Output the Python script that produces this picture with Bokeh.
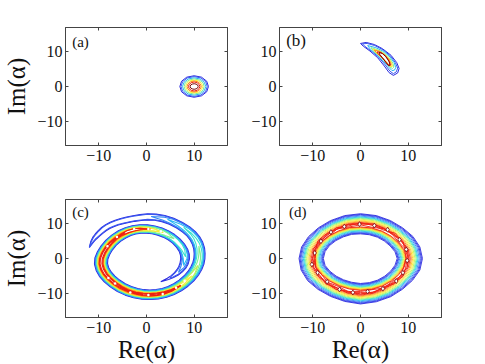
from math import cos, sin, radians, hypot
from bokeh.plotting import figure
from bokeh.layouts import column, row
from bokeh.models import Label, LinearAxis, FixedTicker
from bokeh.embed import file_html
from bokeh.resources import INLINE

FONT = "Liberation Serif"
tick_values = [-10, 0, 10]
tick_labels = {-10: "\u221210", 0: "0", 10: "10"}
panel_names = ["(a)", "(b)", "(c)", "(d)"]
x_title = "Re(\u03b1)"
y_title = "Im(\u03b1)"
axis_limit = 17

BLUE1, BLUE2, AZURE, CYAN, TEAL, GREEN, LIME, YELLOW, AMBER, ORANGE, RED, DARK = (
    "#2a2ae0", "#3a58f0", "#3488f4", "#28b8f4", "#38e4cc", "#80f090", "#bcf258", "#f8f038",
    "#ffc428", "#ff8a18", "#ee2010", "#7a0606")

# (a) closed contours around one peak: radius every 30 degrees
a_center = (10.0, 0.0)
a_levels = [
    (BLUE1, [3.0, 3.05, 3.1, 3.1, 3.1, 3.05, 3.0, 3.05, 3.1, 3.1, 3.1, 3.05]),
    (BLUE2, [2.75, 2.8, 2.85, 2.85, 2.85, 2.8, 2.75, 2.8, 2.85, 2.85, 2.85, 2.8]),
    (CYAN, [2.45, 2.45, 2.5, 2.5, 2.5, 2.45, 2.45, 2.45, 2.5, 2.5, 2.5, 2.45]),
    (GREEN, [2.1, 2.15, 2.15, 2.2, 2.15, 2.15, 2.1, 2.15, 2.15, 2.2, 2.15, 2.15]),
    (YELLOW, [1.8, 1.8, 1.85, 1.85, 1.85, 1.8, 1.8, 1.8, 1.85, 1.85, 1.85, 1.8]),
    (ORANGE, [1.5, 1.5, 1.55, 1.6, 1.55, 1.5, 1.5, 1.5, 1.55, 1.6, 1.55, 1.5]),
    (RED, [1.2, 1.2, 1.25, 1.3, 1.25, 1.2, 1.2, 1.2, 1.25, 1.3, 1.25, 1.2]),
    (DARK, [0.85, 0.85, 0.8, 0.8, 0.8, 0.85, 0.85, 0.85, 0.8, 0.8, 0.8, 0.85]),
]

# (b) crescent contours
b_levels = [
    (BLUE1, [0, 1.2, 2.9, 4.6, 6.4, 7.6, 8.1, 7.8, 6.9, 6.0, 5.0, 3.6, 2.0, 0.6],
            [12.4, 12.7, 12.1, 10.9, 9.0, 6.9, 5.2, 3.9, 3.2, 4.0, 5.9, 8.3, 10.2, 11.6]),
    (BLUE2, [0.4, 1.4, 3.0, 4.7, 6.3, 7.3, 7.8, 7.5, 6.9, 6.2, 5.2, 3.8, 2.2, 0.9],
            [12.3, 12.4, 11.8, 10.6, 8.8, 6.9, 5.3, 4.2, 3.7, 4.4, 6.2, 8.5, 10.3, 11.6]),
    (CYAN, [1.5, 3.2, 4.9, 6.2, 7.1, 7.4, 7.1, 6.6, 5.9, 4.8, 3.4, 2.1],
           [11.8, 11.2, 10.1, 8.5, 6.8, 5.4, 4.7, 4.6, 5.6, 7.3, 9.2, 10.7]),
    (GREEN, [2.2, 3.6, 5.0, 6.1, 6.8, 7.0, 6.7, 6.2, 5.3, 4.0, 2.8],
            [11.2, 10.6, 9.6, 8.2, 6.7, 5.6, 5.2, 5.6, 7.0, 8.8, 10.1]),
    (YELLOW, [2.6, 3.8, 5.0, 6.0, 6.6, 6.7, 6.3, 5.6, 4.4, 3.2],
             [10.8, 10.3, 9.3, 8.0, 6.6, 5.8, 5.7, 6.8, 8.5, 9.8]),
    (ORANGE, [2.9, 4.0, 5.1, 5.9, 6.4, 6.4, 6.0, 5.3, 4.3, 3.4],
             [10.5, 10.1, 9.1, 7.9, 6.6, 6.0, 6.1, 7.3, 8.6, 9.7]),
    (RED, [3.5, 4.3, 5.1, 5.8, 6.2, 6.2, 5.8, 5.1, 4.3, 3.7],
          [10.0, 9.8, 9.0, 7.8, 6.6, 6.1, 6.2, 7.4, 8.6, 9.5]),
    (DARK, [3.9, 4.6, 5.3, 6.0, 6.2, 5.9, 5.3, 4.6, 4.0],
           [9.8, 9.5, 8.6, 7.2, 6.2, 6.0, 7.0, 8.3, 9.3]),
]

# (c) spiral: centre line and half-width of each contour along it
c_spine_x = [3.0, 5, 6.7, 7.8, 8.2, 7.6, 5.8, 3.5, 0.8, -2, -4.5, -7, -8.8, -9.7, -9.1, -7.3, -4.6,
             -1.5, 1.5, 4.5, 7.2, 9.5, 10.8, 11.2, 11, 9.9, 7.8, 4.4, 1, -2, -4.6, -6.8, -8.6, -10, -11.2, -12]
c_spine_y = [-6.7, -5.6, -4, -2, 0.5, 3, 5.7, 7.5, 8.5, 8.5, 7.5, 5.3, 2.3, -0.8, -3.8, -6.6, -9,
             -10.3, -10.5, -9.7, -7.8, -5, -2, 0.7, 3.6, 6.5, 9, 11.3, 12.1, 11.7, 11, 10.1, 8.9, 7.2, 5.4, 3.2]
c_levels = [
    (BLUE1, 0, [0, .3, .6, .85, .95, .95, 1.0, 1.1, 1.2, 1.25, 1.3, 1.3, 1.35, 1.4, 1.4, 1.4, 1.4, 1.4, 1.4,
                1.35, 1.3, 1.25, 1.2, 1.15, 1.15, 1.1, 1.05, .95, .9, .85, .8, .75, .7, .6, .4, 0]),
    (BLUE2, 1, [.15, .45, .7, .8, .82, .88, .97, 1.05, 1.1, 1.15, 1.15, 1.2, 1.25, 1.25, 1.25, 1.25, 1.25,
                1.25, 1.2, 1.15, 1.1, 1.05, 1.0, 1.0, .95, .9, .8, .75, .7, .65, .6, .55, .45, .25, 0]),
    (AZURE, 2, [0, .45, .6, .7, .75, .85, .95, 1.02, 1.08, 1.1, 1.12, 1.15, 1.18, 1.18, 1.18, 1.18, 1.18,
                1.12, 1.06, 1.0, .98, .92, .92, .88, .8, .6, 0]),
    (CYAN, 3, [0, .5, .62, .66, .75, .85, .92, .98, 1.0, 1.05, 1.08, 1.08, 1.08, 1.08, 1.08, 1.08, 1.02,
               .95, .9, .86, .8, .78, .7, .5, 0]),
    (TEAL, 4, [0, .42, .55, .72, .8, .85, .88, .92, .95, .95, .95, .95, .95, .95, .9, .85, .8, .72, .68, .58,
               .42, .2, 0]),
    (GREEN, 6, [0, .6, .74, .78, .82, .85, .85, .85, .85, .85, .85, .8, .76, .7, .6, .5, .35, .2, 0]),
    (LIME, 7, [0, .55, .66, .7, .74, .76, .76, .76, .76, .76, .76, .72, .66, .58, .45, 0]),
    (YELLOW, 7, [0, .4, .55, .6, .62, .65, .65, .65, .65, .65, .62, .58, .5, .35, 0]),
    (AMBER, 8, [0, .4, .48, .5, .54, .56, .56, .56, .56, .54, .5, .4, 0]),
    (ORANGE, 8, [0, .3, .38, .4, .44, .46, .46, .46, .46, .44, .38, .25, 0]),
    (RED, 8, [0, .32, .34, 0]),
    (RED, 10, [0, .3, .34, .38, .38, .34, .34, 0]),
    (RED, 10, [0, .15, .18, .2, .2, .18, .15, 0]),
    (RED, 16, [0, .32, .34, .3, 0]),
    (RED, 16, [0, .15, .15, .12, 0]),
]
c_spots_x = [-2.6, 0.4, 3.0, -6.2, -8.2, -8.0, -6.6, -3.4, 0.4, 3.4, 6.2, 8.0]
c_spots_y = [8.5, 8.5, 7.8, 6.2, 3.5, -5.6, -7.2, -9.8, -10.5, -10.2, -8.4, -6.4]

# (d) ring: radius every 15 degrees of the outermost and innermost contour,
# and how far each further contour lies from them
d_outer = [13.0, 12.9, 12.7, 12.5, 12.6, 12.8, 12.9, 12.8, 12.6, 12.5, 12.6, 12.8,
           12.9, 12.9, 12.8, 12.6, 12.6, 12.8, 13.1, 12.9, 12.7, 12.5, 12.6, 12.9]
d_inner = [7.7, 7.5, 7.2, 7.1, 7.1, 7.1, 7.1, 7.2, 7.2, 7.3, 7.5, 7.7,
           7.8, 7.7, 7.4, 7.2, 7.1, 7.1, 7.2, 7.2, 7.2, 7.2, 7.3, 7.5]
d_outer_steps = [(BLUE1, 0), (BLUE1, .2), (BLUE2, .4), (AZURE, .65), (CYAN, .9), (TEAL, 1.1), (GREEN, 1.3),
                 (LIME, 1.55), (YELLOW, 1.8), (AMBER, 2.05), (ORANGE, 2.3), (RED, 2.55), (RED, 2.8)]
d_inner_steps = [(BLUE1, 0), (BLUE1, .2), (BLUE2, .35), (AZURE, .55), (CYAN, .8), (TEAL, 1.0), (GREEN, 1.2),
                 (LIME, 1.4), (YELLOW, 1.55), (AMBER, 1.7), (ORANGE, 1.85), (RED, 2.0)]
d_noisy = [
    [10.1, 9.7, 10.2, 9.8, 10.0, 10.3, 9.9, 10.2, 9.8, 10.1, 10.3, 9.8, 10.1, 9.7, 10.2, 10.0, 10.3, 9.8, 10.2, 10.0, 9.8, 10.2, 9.7, 10.1],
    [9.5, 9.9, 9.3, 9.6, 9.9, 9.3, 9.7, 9.4, 9.8, 9.3, 9.6, 9.9, 9.4, 9.8, 9.4, 9.7, 9.3, 9.9, 9.5, 9.3, 9.8, 9.4, 9.9, 9.4],
    [9.9, 10.3, 9.9, 10.3, 9.5, 9.9, 10.3, 9.7, 10.2, 9.7, 9.9, 10.3, 9.7, 10.2, 9.8, 10.3, 9.8, 10.3, 9.8, 10.3, 9.5, 9.9, 10.3, 9.8],
]
d_spots_x = [-0.2, 2.9, 5.7, 8.2, 9.6, 9.8, 8.9, 7.5, 4.7, 1.5, -1.6, -4.4, -7, -9, -10.2, -9.6, -8.3, -6.2, -3.4]
d_spots_y = [9.9, 9.5, 8.3, 5.4, 2.6, -0.6, -4.1, -6.5, -8.7, -9.5, -9.8, -8.9, -6.7, -4.1, -1.7, 1.6, 5, 7.6, 9.2]
label_spots = [(-15.6, 10.6, "15px"), (-15.6, 10.6, "17px"), (-15.6, 11.0, "15px"), (-15.0, 11.0, "15px")]


def polar(radii, cx=0.0, cy=0.0):
    step = 360 / len(radii)
    xs = [cx + r * cos(radians(i * step)) for i, r in enumerate(radii)]
    ys = [cy + r * sin(radians(i * step)) for i, r in enumerate(radii)]
    return xs + xs[:1], ys + ys[:1]


def rounded(pts):
    """Round the corners of a closed outline (corner cutting)."""
    out = []
    n = len(pts)
    for i in range(n):
        a, b = pts[i], pts[(i + 1) % n]
        out.append((0.75 * a[0] + 0.25 * b[0], 0.75 * a[1] + 0.25 * b[1]))
        out.append((0.25 * a[0] + 0.75 * b[0], 0.25 * a[1] + 0.75 * b[1]))
    return out


def band(start, widths):
    left, right = [], []
    last = len(c_spine_x) - 1
    for k, w in enumerate(widths):
        i = start + k
        a, b = max(i - 1, 0), min(i + 1, last)
        dx, dy = c_spine_x[b] - c_spine_x[a], c_spine_y[b] - c_spine_y[a]
        n = hypot(dx, dy)
        nx, ny = -dy / n, dx / n
        left.append((c_spine_x[i] + nx * w, c_spine_y[i] + ny * w))
        right.append((c_spine_x[i] - nx * w, c_spine_y[i] - ny * w))
    pts = rounded(left + right[::-1])
    pts.append(pts[0])
    return [q[0] for q in pts], [q[1] for q in pts]


def panel(width, height, left, right, top, bottom, idx, xlab=None, ylab=None):
    p = figure(width=width, height=height, min_border_left=left, min_border_right=right,
               min_border_top=top, min_border_bottom=bottom, frame_width=162, frame_height=118,
               x_range=(-axis_limit, axis_limit), y_range=(-axis_limit, axis_limit),
               output_backend="svg", toolbar_location=None, background_fill_color="white",
               x_axis_label=xlab, y_axis_label=ylab)
    p.grid.visible = False
    p.outline_line_color = "#444444"
    ticker = FixedTicker(ticks=tick_values)
    for ax in (p.xaxis[0], p.yaxis[0]):
        ax.ticker = ticker
        ax.major_label_overrides = tick_labels
        ax.major_label_text_font = FONT
        ax.major_label_text_font_size = "16px"
        ax.major_label_text_color = "#111111"
        ax.major_tick_in = 3
        ax.major_tick_out = 0
        ax.minor_tick_line_color = None
        ax.axis_line_color = "#444444"
        ax.major_tick_line_color = "#444444"
        ax.axis_label_text_font = FONT
        ax.axis_label_text_font_size = "25px"
        ax.axis_label_text_font_style = "normal"
        ax.axis_label_text_color = "#111111"
    p.xaxis[0].major_label_standoff = 4
    p.yaxis[0].major_label_standoff = 3
    p.xaxis[0].axis_label_standoff = 0
    p.yaxis[0].axis_label_standoff = 4
    for side in ("above", "right"):
        ax = LinearAxis(ticker=ticker, major_label_text_font_size="0px", major_label_text_color=None,
                        major_tick_in=3, major_tick_out=0, minor_tick_line_color=None,
                        axis_line_color="#444444", major_tick_line_color="#444444",
                        major_label_standoff=0)
        p.add_layout(ax, side)
    lx, ly, fs = label_spots[idx]
    p.add_layout(Label(x=lx, y=ly, text=panel_names[idx], text_font=FONT, text_font_size=fs,
                       text_color="#111111"))
    return p


pa = panel(237, 190, 55, 20, 27, 45, 0, ylab=y_title)
xs, ys, cols = [], [], []
for col, radii in a_levels:
    x, y = polar(radii, *a_center)
    xs.append(x); ys.append(y); cols.append(col)
pa.multi_line(xs, ys, line_color=cols, line_width=1.0)

pb = panel(232, 190, 32, 38, 27, 45, 1)
pb.multi_line([c[1] + c[1][:1] for c in b_levels], [c[2] + c[2][:1] for c in b_levels],
              line_color=[c[0] for c in b_levels], line_width=1.0)

pc = panel(237, 166, 55, 20, 9, 38, 2, xlab=x_title, ylab=y_title)
xs, ys, cols = [], [], []
for col, start, widths in c_levels:
    x, y = band(start, widths)
    xs.append(x); ys.append(y); cols.append(col)
pc.multi_line(xs, ys, line_color=cols, line_width=1.1)
pc.scatter(c_spots_x, c_spots_y, marker="circle", size=2.5, fill_color="white", line_color=None)

pd = panel(232, 166, 32, 38, 9, 38, 3, xlab=x_title)
xs, ys, cols = [], [], []
for col, step in d_outer_steps:
    x, y = polar([r - step for r in d_outer])
    xs.append(x); ys.append(y); cols.append(col)
for col, step in d_inner_steps:
    x, y = polar([r + step for r in d_inner])
    xs.append(x); ys.append(y); cols.append(col)
for radii in d_noisy:
    x, y = polar(radii)
    xs.append(x); ys.append(y); cols.append(RED)
pd.multi_line(xs, ys, line_color=cols, line_width=0.9)
pd.scatter(d_spots_x, d_spots_y, marker="diamond", size=5, fill_color="white",
           line_color=DARK, line_width=0.8)

layout = column(row(pa, pb), row(pc, pd))
open("out.html", "w").write(file_html(layout, INLINE))
